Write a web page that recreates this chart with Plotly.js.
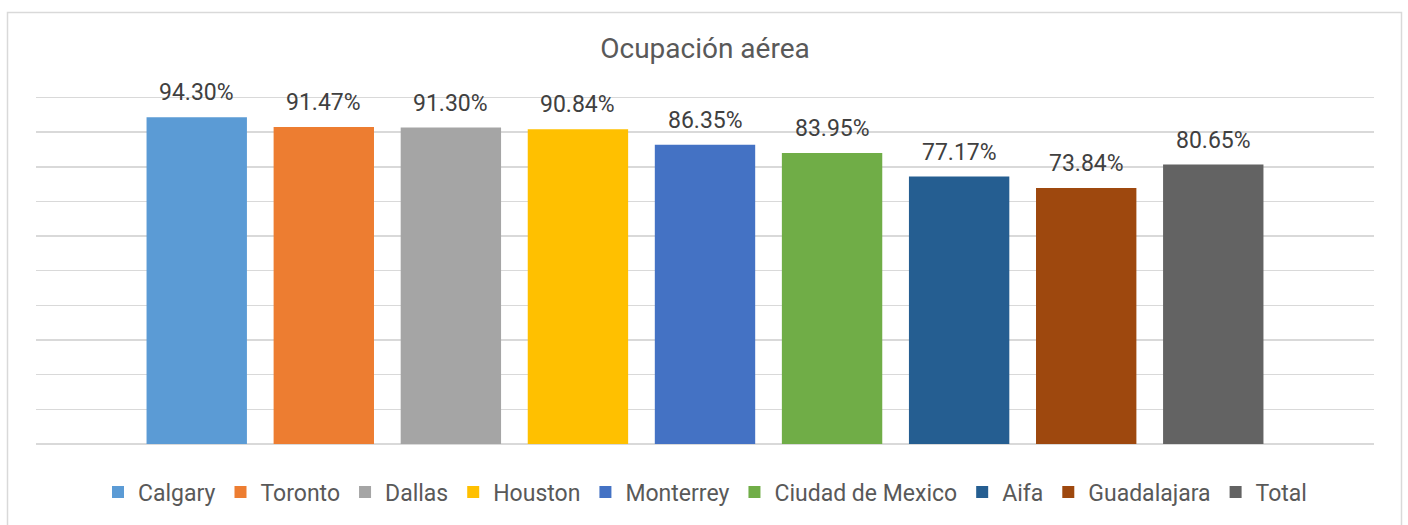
<!DOCTYPE html>
<html>
<head>
<meta charset="utf-8">
<script src="https://cdn.plot.ly/plotly-3.0.1.min.js"></script>
<style>
html,body{margin:0;padding:0;background:#fff;}
#chart{width:1408px;height:525px;}
</style>
</head>
<body>
<div id="chart"></div>
<script>
const categories = ["Calgary","Toronto","Dallas","Houston","Monterrey","Ciudad de Mexico","Aifa","Guadalajara","Total"];
const values = [94.30, 91.47, 91.30, 90.84, 86.35, 83.95, 77.17, 73.84, 80.65];
const colors = ["#5B9BD5","#ED7D31","#A5A5A5","#FFC000","#4472C4","#70AD47","#255E91","#9E480E","#636363"];
const gridValues = [0,10,20,30,40,50,60,70,80,90,100];
const titleText = "Ocupación aérea";

const traces = categories.map((c, i) => ({
  type: "bar",
  name: c,
  x: [c],
  y: [values[i]],
  width: 0.79,
  marker: {color: colors[i]},
  hoverinfo: "skip"
}));

const annotations = categories.map((c, i) => ({
  xref: "x", yref: "y",
  x: c, y: values[i],
  text: values[i].toFixed(2) + "%",
  showarrow: false,
  yanchor: "bottom",
  yshift: 9,
  font: {family: "Roboto, sans-serif", size: 23, color: "#404040"}
}));

const layout = {
  width: 1408, height: 525,
  margin: {l: 36, r: 34, t: 94, b: 81},
  paper_bgcolor: "#ffffff",
  plot_bgcolor: "#ffffff",
  font: {family: "Roboto, sans-serif", color: "#595959"},
  title: {text: titleText, font: {size: 28, color: "#595959"}, x: 0.5, xref: "paper", xanchor: "center", y: 1 - 48/525, yref: "container", yanchor: "middle"},
  barmode: "overlay",
  showlegend: true,
  legend: {orientation: "h", x: 0.5, xanchor: "center", y: -0.137, yanchor: "middle", font: {size: 23, color: "#595959"}, itemwidth: 30, traceorder: "normal"},
  xaxis: {type: "category", categoryorder: "array", categoryarray: categories, range: [-1.265, 9.265], showticklabels: false, showgrid: false, zeroline: false, showline: false, ticks: ""},
  yaxis: {range: [0, 101], tickvals: gridValues, showticklabels: false, showgrid: true, gridcolor: "#d9d9d9", gridwidth: 1.5, zeroline: true, zerolinecolor: "#d9d9d9", zerolinewidth: 1.5, ticks: ""},
  annotations: annotations,
  shapes: [{type: "rect", xref: "paper", yref: "paper", x0: (7.5-36)/1338, x1: (1401.5-36)/1338, y0: -0.5, y1: (444-12.5)/350, line: {color: "#d9d9d9", width: 1.5}, fillcolor: "rgba(0,0,0,0)", layer: "below"}]
};

Plotly.newPlot("chart", traces, layout, {displayModeBar: false, staticPlot: true});
</script>
</body>
</html>
